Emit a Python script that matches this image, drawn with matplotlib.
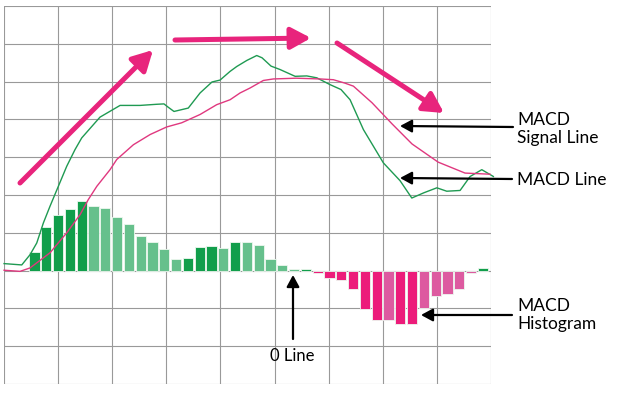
import matplotlib
matplotlib.use("Agg")
import matplotlib.pyplot as plt
import numpy as np

# histogram, one bar per period
hist = [0.50, 1.16, 1.47, 1.64, 1.84, 1.71, 1.65, 1.43, 1.23, 0.92,
        0.76, 0.57, 0.31, 0.34, 0.62, 0.65, 0.61, 0.76, 0.76, 0.67,
        0.30, 0.16, 0.03, 0.05, -0.07, -0.20, -0.24, -0.50, -1.02, -1.30,
        -1.30, -1.40, -1.40, -0.99, -0.68, -0.61, -0.48, -0.07, 0.07]
# 1 = strong shade, 0 = pale shade
strong = [1, 1, 1, 1, 1, 0, 0, 0, 0, 0,
          0, 0, 0, 1, 1, 1, 0, 1, 0, 0,
          0, 0, 0, 1, 1, 1, 1, 1, 1, 1,
          0, 1, 1, 0, 0, 0, 0, 0, 1]

macd_t = [-2.58, -1.08, -0.38, 0.19, 0.75, 1.31, 2.02, 2.73, 3.43, 4.0,
          5.55, 7.25, 8.94, 10.36, 10.97, 11.34, 11.82, 13.03, 14.03, 15.04,
          15.72, 16.57, 17.14, 17.99, 18.83, 19.28, 20.04, 20.8, 22.08, 23.07,
          23.92, 25.04, 25.97, 26.74, 27.87, 29.56, 30.97, 31.97, 33.0, 34.09,
          34.93, 36.06, 36.91, 37.9, 38.88]
macd_v = [0.185, 0.15, 0.42, 0.73, 1.26, 1.70, 2.23, 2.76, 3.20, 3.51,
          4.06, 4.37, 4.37, 4.40, 4.41, 4.32, 4.21, 4.30, 4.70, 4.99,
          5.04, 5.27, 5.40, 5.56, 5.69, 5.63, 5.41, 5.32, 5.14, 5.15,
          5.10, 4.92, 4.79, 4.52, 3.73, 2.85, 2.38, 1.92, 2.06, 2.19,
          2.10, 2.12, 2.49, 2.67, 2.49]

sig_t = [-2.58, -1.23, -0.38, 1.31, 2.73, 3.86, 4.56, 5.28, 6.4, 6.97,
         8.38, 9.8, 11.2, 12.47, 14.03, 15.44, 16.57, 17.42, 18.26,
         19.39, 20.24, 22.16, 24.19, 25.32, 26.3, 27.02, 28.6, 30.3, 31.99,
         34.2, 36.48, 38.6]
sig_v = [0.01, -0.02, 0.07, 0.47, 1.0, 1.48, 1.88, 2.23, 2.67, 2.94,
         3.33, 3.60, 3.80, 3.91, 4.13, 4.39, 4.52, 4.70, 4.83,
         5.03, 5.07, 5.09, 5.07, 5.05, 4.96, 4.88, 4.44, 3.88, 3.35,
         2.87, 2.58, 2.55]

plt.rcParams['font.family'] = ['Lato', 'DejaVu Sans']

fig = plt.figure(figsize=(6.2, 4), dpi=100)
ax = fig.add_axes([4/620, 1-384/400, 487/620, 378/400])
x0, x1 = -2.585, 38.68
ax.set_xlim(x0, x1)
ax.set_ylim(-3, 7)

for gx in np.linspace(x0, x1, 10):
    ax.axvline(gx, color="#999999", lw=0.8, zorder=0)
for gy in range(-3, 8):
    ax.axhline(gy, color="#999999", lw=0.8, zorder=0)

cols = []
for v, s in zip(hist, strong):
    if v >= 0:
        cols.append("#119e4b" if s else "#66c08c")
    else:
        cols.append("#ec1c7a" if s else "#dd5aa0")
ax.bar(np.arange(len(hist)), hist, width=0.86, color=cols,
       edgecolor="#eef8f0", linewidth=0.6, zorder=2)

ax.plot(macd_t, macd_v, color="#1f9a52", lw=1.0, zorder=3, clip_on=False)
ax.plot(sig_t, sig_v, color="#e0387f", lw=1.0, zorder=3, clip_on=False)

for sp in ax.spines.values():
    sp.set_visible(False)
ax.set_xticks([])
ax.set_yticks([])

# trend arrows (figure pixels)
def px(x, y):
    return (x/620, 1 - y/400)

pink = "#e8247c"
for a, b in [((20, 183), (153, 50)), ((175, 40), (311, 38)), ((337, 43), (444, 113))]:
    fig.add_artist(matplotlib.patches.FancyArrowPatch(
        px(*a), px(*b), transform=fig.transFigure, arrowstyle="-|>,head_length=12,head_width=6.5",
        color=pink, lw=3.6, shrinkA=0, shrinkB=0, mutation_scale=1))

for a, b in [((513, 127), (400, 126)), ((512, 179), (400, 178)),
             ((512, 315), (421, 315)), ((293, 339), (293, 275))]:
    fig.add_artist(matplotlib.patches.FancyArrowPatch(
        px(*a), px(*b), transform=fig.transFigure, arrowstyle="-|>,head_length=7,head_width=3.8",
        color="black", lw=1.6, shrinkA=0, shrinkB=0, mutation_scale=1))

fs = 12.5
fig.text(*px(517, 129), "MACD\nSignal Line", fontsize=fs, va="center", ha="left", linespacing=1.15)
fig.text(*px(517, 180), "MACD Line", fontsize=fs, va="center", ha="left")
fig.text(*px(517, 315), "MACD\nHistogram", fontsize=fs, va="center", ha="left", linespacing=1.15)
fig.text(*px(292, 356), "0 Line", fontsize=12, va="center", ha="center")

fig.savefig("out.png", dpi=100, facecolor="white")
